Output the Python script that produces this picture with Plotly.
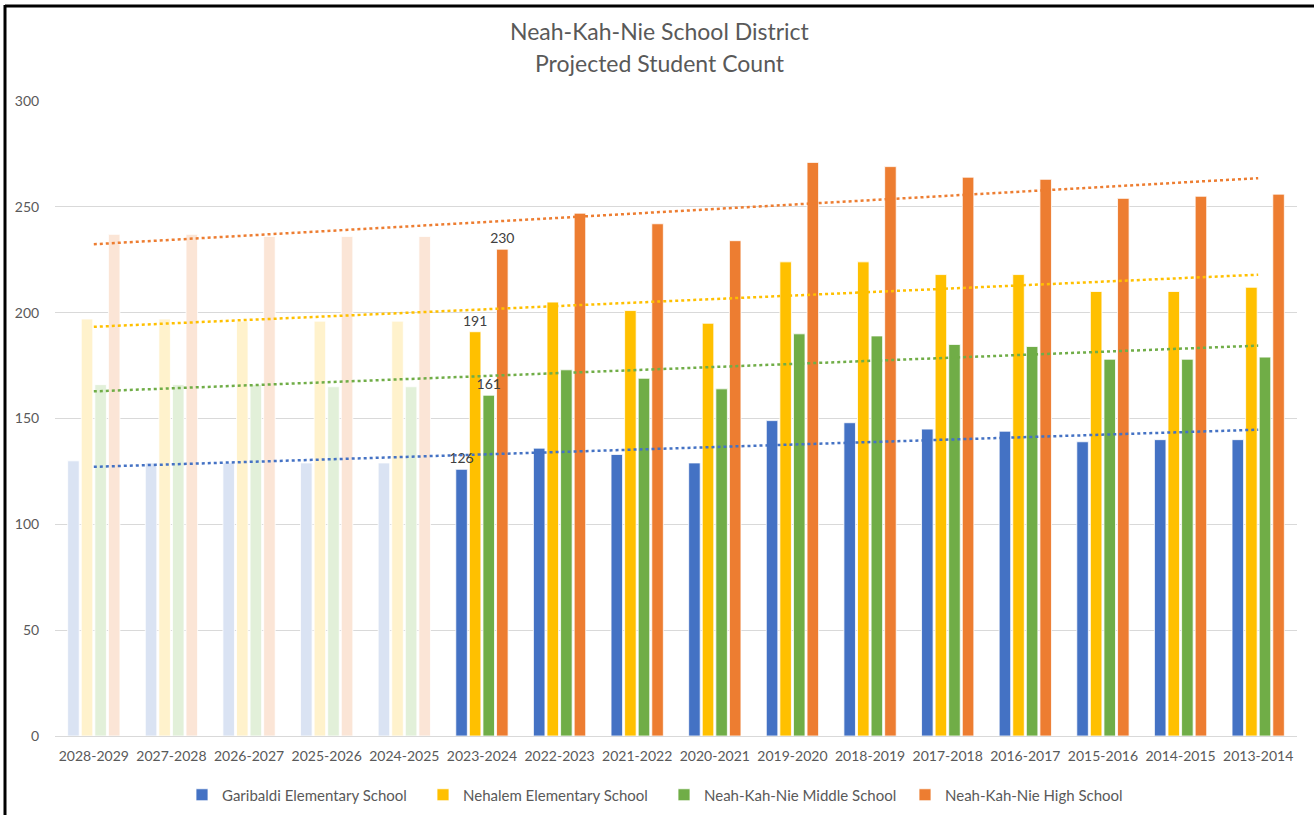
import numpy as np
import plotly.graph_objects as go

years = ["2028-2029", "2027-2028", "2026-2027", "2025-2026", "2024-2025",
         "2023-2024", "2022-2023", "2021-2022", "2020-2021", "2019-2020",
         "2018-2019", "2017-2018", "2016-2017", "2015-2016", "2014-2015", "2013-2014"]
n_projected = 5  # first five school years are projections

schools = ["Garibaldi Elementary School", "Nehalem Elementary School",
           "Neah-Kah-Nie Middle School", "Neah-Kah-Nie High School"]

garibaldi = [130, 129, 129, 129, 129, 126, 136, 133, 129, 149, 148, 145, 144, 139, 140, 140]
nehalem = [197, 197, 196, 196, 196, 191, 205, 201, 195, 224, 224, 218, 218, 210, 210, 212]
middle = [166, 166, 166, 165, 165, 161, 173, 169, 164, 190, 189, 185, 184, 178, 178, 179]
high = [237, 237, 236, 236, 236, 230, 247, 242, 234, 271, 269, 264, 263, 254, 255, 256]
values = [garibaldi, nehalem, middle, high]

colors = ["#4472C4", "#FFC000", "#70AD47", "#ED7D31"]
light_colors = ["#DAE3F3", "#FFF2CC", "#E2F0D9", "#FBE5D6"]
labelled_year = "2023-2024"

fig = go.Figure()
FONT = "Lato, 'Open Sans', sans-serif"

for name, vals, c, lc in zip(schools, values, colors, light_colors):
    fig.add_trace(go.Bar(
        x=years[:n_projected], y=vals[:n_projected], name=name, offsetgroup=name,
        marker=dict(color=lc, line=dict(color="white", width=0.8)),
        showlegend=False, hoverinfo="x+y"))
    fig.add_trace(go.Bar(
        x=years[n_projected:], y=vals[n_projected:], name=name, offsetgroup=name,
        marker=dict(color=c, line=dict(color="white", width=0.8)),
        showlegend=True))

# transparent overlay bars carrying the data labels, drawn after all bars so text sits on top
li = years.index(labelled_year)
for name, vals in zip(schools, values):
    fig.add_trace(go.Bar(
        x=[labelled_year], y=[vals[li]], offsetgroup=name,
        marker=dict(color="rgba(0,0,0,0)", line=dict(width=0)),
        text=[str(vals[li])], textposition="outside", cliponaxis=False, constraintext="none",
        textfont=dict(color="#404040", size=14, family=FONT),
        showlegend=False, hoverinfo="skip"))

# linear trendlines fitted to each series (as the spreadsheet trendline does)
idx = np.arange(len(years))
for name, vals, c in zip(schools, values, colors):
    slope, intercept = np.polyfit(idx, np.array(vals, dtype=float), 1)
    fig.add_trace(go.Scatter(
        x=years, y=slope * idx + intercept, mode="lines",
        line=dict(color=c, width=2.5, dash="dot"),
        showlegend=False, hoverinfo="skip"))

L, R, T, B = 55, 17, 101, 79
W, H = 1314, 815
pw, ph = W - L - R, H - T - B

def px_x(p):
    return (p - L) / pw

def px_y(p):
    return (H - B - p) / ph

fig.update_layout(
    width=W, height=H,
    margin=dict(l=L, r=R, t=T, b=B, autoexpand=False),
    paper_bgcolor="white", plot_bgcolor="white",
    barmode="group", bargap=0.3, bargroupgap=0.15,
    font=dict(family=FONT, color="#595959", size=14),
    showlegend=True,
    legend=dict(orientation="h", x=px_x(182), xanchor="left", y=px_y(795), yanchor="middle",
                font=dict(size=15, color="#595959", family=FONT),
                entrywidth=196, entrywidthmode="pixels", itemwidth=30,
                traceorder="normal"),
    xaxis=dict(type="category", categoryorder="array", categoryarray=years,
               showgrid=False, showline=True, linecolor="#D9D9D9", linewidth=1,
               ticks="outside", ticklen=7, tickcolor="rgba(0,0,0,0)",
               tickfont=dict(size=14, color="#595959", family=FONT)),
    yaxis=dict(range=[0, 300], dtick=50, showgrid=True, gridcolor="#D9D9D9", gridwidth=1,
               zeroline=False, showline=False,
               ticks="outside", ticklen=12, tickcolor="rgba(0,0,0,0)",
               tickfont=dict(size=14, color="#595959", family=FONT)),
    annotations=[
        dict(text="Neah-Kah-Nie School District", xref="paper", yref="paper",
             x=px_x(660), y=px_y(31), xanchor="center", yanchor="middle", showarrow=False,
             font=dict(size=23, color="#595959", family=FONT)),
        dict(text="Projected Student Count", xref="paper", yref="paper",
             x=px_x(660), y=px_y(63), xanchor="center", yanchor="middle", showarrow=False,
             font=dict(size=23, color="#595959", family=FONT)),
    ],
    shapes=[
        dict(type="line", xref="paper", yref="paper", x0=px_x(5), x1=px_x(W + 5),
             y0=px_y(6), y1=px_y(6), line=dict(color="black", width=3)),
        dict(type="line", xref="paper", yref="paper", x0=px_x(5), x1=px_x(5),
             y0=px_y(5), y1=px_y(H + 5), line=dict(color="black", width=3)),
    ],
)

fig.write_html("out.html")
